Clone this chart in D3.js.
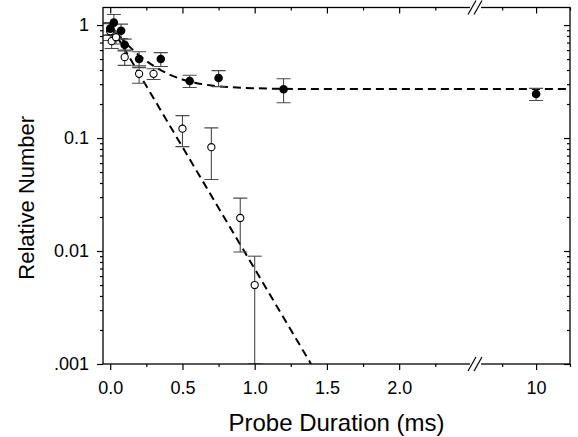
<!DOCTYPE html>
<html><head><meta charset="utf-8">
<script src="https://cdn.jsdelivr.net/npm/d3@7"></script>
<style>
body{margin:0;background:#fff;}
svg{display:block;font-family:"Liberation Sans",Arial,Helvetica,sans-serif;}
</style></head>
<body><svg id="c" width="578" height="437"></svg>
<script>
// ---- data ----
const filledX   = [0.0, 0.025, 0.075, 0.1, 0.2, 0.35, 0.55, 0.75, 1.2, 10];
const filledY   = [0.93, 1.05, 0.89, 0.67, 0.50, 0.50, 0.32, 0.34, 0.27, 0.245];
const filledErr = [0.12, 0.19, 0.13, 0.08, 0.08, 0.07, 0.04, 0.055, 0.065, 0.03];

const openX   = [0.0, 0.01, 0.04, 0.1, 0.2, 0.3, 0.5, 0.7, 0.9, 1.0];
const openY   = [0.88, 0.72, 0.78, 0.52, 0.37, 0.37, 0.121, 0.083, 0.0196, 0.005];
const openErr = [0.15, 0.10, 0.10, 0.08, 0.065, 0.04, 0.037, 0.04, 0.0098, 0.0040];

// fitted curves
const slowFitX = [0, 0.1, 0.2, 0.3, 0.4, 0.5, 0.6, 0.7, 0.85, 1.0, 1.3, 2.0, 2.525, 9.55, 10.25];
const slowFitY = [1.0, 0.71, 0.54, 0.435, 0.37, 0.33, 0.306, 0.292, 0.281, 0.276, 0.272, 0.271, 0.271, 0.271, 0.271];
const fastFitX = [0, 1.39];
const fastFitY = [1.0, 0.001];

const xMajorLeft  = [0, 0.5, 1, 1.5, 2];
const xMinorLeft  = [0.25, 0.75, 1.25, 1.75, 2.25];
const xMajorRight = [10];
const xMinorRight = [9.75, 10.25];
const xTickLabels = ["0.0", "0.5", "1.0", "1.5", "2.0"];
const xTickLabelsRight = ["10"];
const yMajor = [1, 0.1, 0.01, 0.001];
const yTickLabels = ["1", "0.1", "0.01", ".001"];
const yMinor = [];
[0.001, 0.01, 0.1].forEach(d => { for (let k = 2; k <= 9; k++) yMinor.push(+(d * k).toPrecision(3)); });

// ---- layout ----
const L = 103, R = 570, T = 7.5, B = 364, BRK = 475;
const svg = d3.select("#c");
const x1 = d3.scaleLinear().domain([-0.05, 2.525]).range([L, BRK]);
const x2 = d3.scaleLinear().domain([9.55, 10.25]).range([BRK, R]);
const X = v => v < 5 ? x1(v) : x2(v);
const y = d3.scaleLog().domain([0.001, 1.43]).range([B, T]);

const g = svg.append("g");

function styleAxis(sel, fs) {
  sel.select(".domain").remove();
  sel.selectAll(".tick line").attr("stroke", "#000").attr("stroke-width", 1.2);
  sel.selectAll(".tick text").attr("fill", "#000").style("font-size", fs + "px")
     .style("font-family", '"Liberation Sans",Arial,Helvetica,sans-serif');
}
// bottom
styleAxis(g.append("g").attr("transform", `translate(0,${B})`)
  .call(d3.axisBottom(x1).tickValues(xMajorLeft).tickSize(6).tickPadding(11).tickFormat((d,i) => xTickLabels[i])), 18);
styleAxis(g.append("g").attr("transform", `translate(0,${B})`)
  .call(d3.axisBottom(x1).tickValues(xMinorLeft).tickSize(3).tickFormat("")), 18);
styleAxis(g.append("g").attr("transform", `translate(0,${B})`)
  .call(d3.axisBottom(x2).tickValues(xMajorRight).tickSize(6).tickPadding(11).tickFormat((d,i) => xTickLabelsRight[i])), 18);
styleAxis(g.append("g").attr("transform", `translate(0,${B})`)
  .call(d3.axisBottom(x2).tickValues(xMinorRight).tickSize(3).tickFormat("")), 18);
// top (inward)
styleAxis(g.append("g").attr("transform", `translate(0,${T})`)
  .call(d3.axisTop(x1).tickValues(xMajorLeft).tickSize(-6).tickFormat("")), 18);
styleAxis(g.append("g").attr("transform", `translate(0,${T})`)
  .call(d3.axisTop(x1).tickValues(xMinorLeft).tickSize(-3).tickFormat("")), 18);
styleAxis(g.append("g").attr("transform", `translate(0,${T})`)
  .call(d3.axisTop(x2).tickValues(xMajorRight).tickSize(-6).tickFormat("")), 18);
styleAxis(g.append("g").attr("transform", `translate(0,${T})`)
  .call(d3.axisTop(x2).tickValues(xMinorRight).tickSize(-3).tickFormat("")), 18);
// left
styleAxis(g.append("g").attr("transform", `translate(${L},0)`)
  .call(d3.axisLeft(y).tickValues(yMajor).tickSize(6).tickPadding(8).tickFormat((d,i) => yTickLabels[i])), 18);
styleAxis(g.append("g").attr("transform", `translate(${L},0)`)
  .call(d3.axisLeft(y).tickValues(yMinor).tickSize(3).tickFormat("")), 18);
// right (inward)
styleAxis(g.append("g").attr("transform", `translate(${R},0)`)
  .call(d3.axisRight(y).tickValues(yMajor).tickSize(-6).tickFormat("")), 18);
styleAxis(g.append("g").attr("transform", `translate(${R},0)`)
  .call(d3.axisRight(y).tickValues(yMinor).tickSize(-3).tickFormat("")), 18);

// clip for plot contents
svg.append("defs").append("clipPath").attr("id", "clip")
  .append("rect").attr("x", L).attr("y", T).attr("width", R - L).attr("height", B - T);
const plot = svg.append("g").attr("clip-path", "url(#clip)");

// fit lines
const line = d3.line().x(d => X(d[0])).y(d => y(d[1]));
plot.append("path").datum(slowFitX.map((v,i) => [v, slowFitY[i]]))
  .attr("d", line.curve(d3.curveMonotoneX)).attr("fill", "none").attr("stroke", "#000")
  .attr("stroke-width", 2).attr("stroke-dasharray", "8,5");
plot.append("path").datum(fastFitX.map((v,i) => [v, fastFitY[i]]))
  .attr("d", d3.line().x(d => X(d[0])).y(d => y(d[1]))).attr("fill", "none").attr("stroke", "#000")
  .attr("stroke-width", 2).attr("stroke-dasharray", "8,5");

// error bars
function errBars(xs, ys, es) {
  const data = xs.map((v,i) => ({x: v, lo: Math.max(ys[i] - es[i], 0.0005), hi: ys[i] + es[i]}));
  const eg = plot.append("g").attr("stroke", "#4a4a4a").attr("stroke-width", 1.1);
  eg.selectAll(".v").data(data).join("line")
    .attr("x1", d => X(d.x)).attr("x2", d => X(d.x)).attr("y1", d => y(d.lo)).attr("y2", d => y(d.hi));
  eg.selectAll(".t").data(data).join("line")
    .attr("x1", d => X(d.x) - 7).attr("x2", d => X(d.x) + 7).attr("y1", d => y(d.hi)).attr("y2", d => y(d.hi));
  eg.selectAll(".b").data(data.filter(d => d.lo >= 0.001)).join("line")
    .attr("x1", d => X(d.x) - 7).attr("x2", d => X(d.x) + 7).attr("y1", d => y(d.lo)).attr("y2", d => y(d.lo));
}
errBars(openX, openY, openErr);
errBars(filledX, filledY, filledErr);

// markers
plot.append("g").selectAll("circle").data(openX.map((v,i) => [v, openY[i]])).join("circle")
  .attr("cx", d => X(d[0])).attr("cy", d => y(d[1])).attr("r", 3.6)
  .attr("fill", "#fff").attr("stroke", "#000").attr("stroke-width", 1.1);
plot.append("g").selectAll("circle").data(filledX.map((v,i) => [v, filledY[i]])).join("circle")
  .attr("cx", d => X(d[0])).attr("cy", d => y(d[1])).attr("r", 4.3)
  .attr("fill", "#000");

// frame
svg.append("rect").attr("x", L).attr("y", T).attr("width", R - L).attr("height", B - T)
  .attr("fill", "none").attr("stroke", "#000").attr("stroke-width", 1.3);

// axis breaks
[B, T].forEach(yy => {
  svg.append("rect").attr("x", BRK - 5).attr("y", yy - 2).attr("width", 11).attr("height", 4).attr("fill", "#fff");
  [-3, 3].forEach(o => {
    svg.append("line").attr("x1", BRK + o - 4).attr("y1", yy + 7).attr("x2", BRK + o + 4).attr("y2", yy - 7)
      .attr("stroke", "#000").attr("stroke-width", 1.2);
  });
});

// titles
svg.append("text").attr("x", (L + R) / 2).attr("y", 431).attr("text-anchor", "middle")
  .style("font-size", "24px").text("Probe Duration (ms)");
svg.append("text").attr("transform", `translate(34,${(T + B) / 2 + 12}) rotate(-90)`).attr("text-anchor", "middle")
  .style("font-size", "22px").text("Relative Number");
</script></body></html>
